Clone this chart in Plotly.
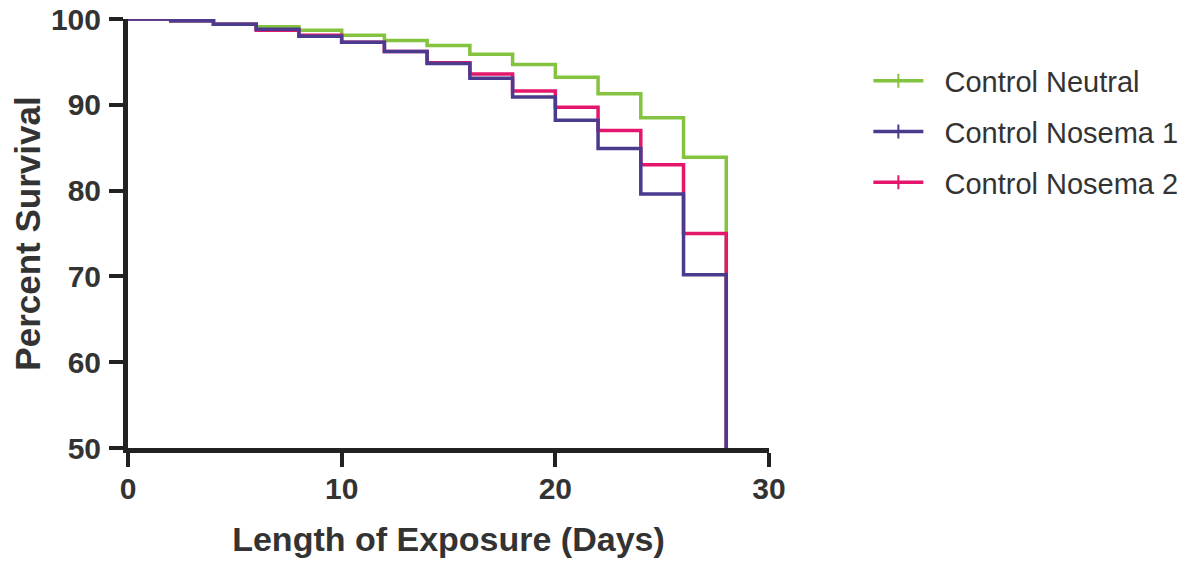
import plotly.graph_objects as go

days = [0, 2, 4, 6, 8, 10, 12, 14, 16, 18, 20, 22, 24, 26, 28]
control_neutral = [100, 99.8, 99.4, 99.1, 98.7, 98.1, 97.5, 96.9, 95.9, 94.7, 93.2, 91.3, 88.5, 83.9, 0]
control_nosema_1 = [100, 99.8, 99.4, 98.8, 98.0, 97.3, 96.2, 94.8, 93.1, 90.9, 88.2, 84.9, 79.6, 70.2, 0]
control_nosema_2 = [100, 99.8, 99.4, 98.7, 98.1, 97.3, 96.2, 94.9, 93.6, 91.6, 89.7, 87.0, 83.0, 75.0, 0]

series = [
    ("Control Neutral", control_neutral, "#84c340"),
    ("Control Nosema 2", control_nosema_2, "#e5176c"),
    ("Control Nosema 1", control_nosema_1, "#4b3a8e"),
]
legend_order = ["Control Neutral", "Control Nosema 1", "Control Nosema 2"]

fig = go.Figure()
for name, vals, color in series:
    fig.add_trace(go.Scatter(
        x=days, y=vals, mode="lines", line=dict(color=color, width=3.5, shape="hv"),
        showlegend=False, name=name, hoverinfo="x+y+name"))

colors = {n: c for n, _, c in series}
for i, name in enumerate(legend_order):
    fig.add_trace(go.Scatter(
        x=[None], y=[None], mode="lines+markers", name="\u00a0\u00a0" + name,
        legendgroup=name, legendrank=i,
        line=dict(color=colors[name], width=3.5),
        marker=dict(symbol="line-ns", size=10, line=dict(color=colors[name], width=2))))

FONT = "Liberation Sans, Arial, sans-serif"
fig.update_layout(
    width=1188, height=561,
    margin=dict(l=120, r=427, t=11, b=121),
    paper_bgcolor="white", plot_bgcolor="white",
    font=dict(family=FONT, color="#333333"),
    legend=dict(x=1.155, y=0.915, xanchor="left", yanchor="top",
                font=dict(size=29, color="#333333"), tracegroupgap=10,
                itemwidth=50, bgcolor="rgba(0,0,0,0)"),
)
fig.update_xaxes(
    range=[0, 30], tickvals=[0, 10, 20, 30], ticktext=["<b>0</b>", "<b>10</b>", "<b>20</b>", "<b>30</b>"],
    showgrid=False, zeroline=False, showline=True, linecolor="#222222", linewidth=5,
    ticks="outside", ticklen=14, tickwidth=4, tickcolor="#222222",
    tickfont=dict(family=FONT, size=30, color="#333333"), automargin=False,
    ticklabelstandoff=-4, ticklabeloverflow="allow",
    title=dict(text="<b>Length of Exposure (Days)</b>", font=dict(size=34, color="#333333"), standoff=25))
fig.update_yaxes(
    range=[50, 100], tickvals=[50, 60, 70, 80, 90, 100],
    ticktext=["<b>50</b>", "<b>60</b>", "<b>70</b>", "<b>80</b>", "<b>90</b>", "<b>100</b>"],
    showgrid=False, zeroline=False, showline=True, linecolor="#222222", linewidth=5,
    ticks="outside", ticklen=14, tickwidth=4, tickcolor="#222222",
    tickfont=dict(family=FONT, size=30, color="#333333"), automargin=False,
    ticklabelstandoff=2, ticklabeloverflow="allow",
    title=dict(text="<b>Percent Survival</b>", font=dict(size=35, color="#333333"), standoff=20))

fig.write_html("out.html")
